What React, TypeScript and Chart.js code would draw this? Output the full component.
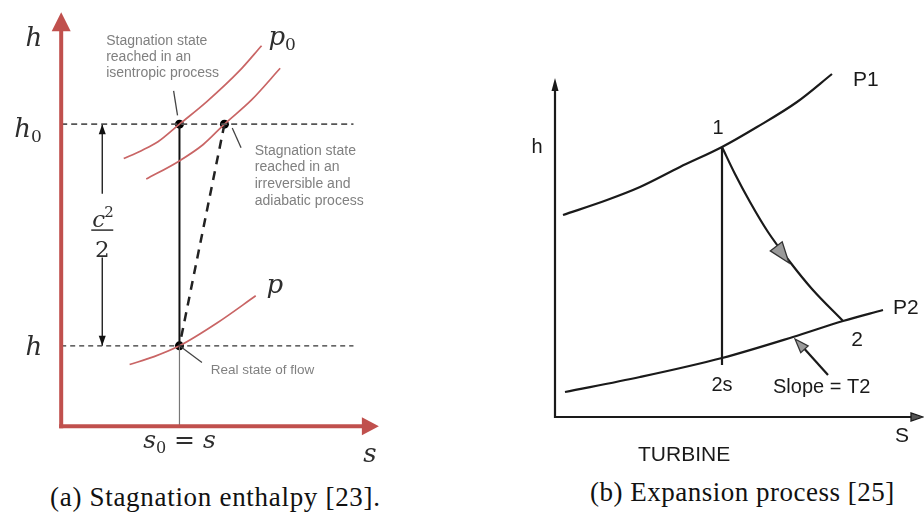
import React, { useEffect, useRef } from "react";
import { Chart, registerables } from "chart.js";
Chart.register(...registerables);

// ---------- Panel (a): stagnation enthalpy (s, h in arbitrary units) ----------
const S0 = 12.1;
const S_IRR = 16.7;
const H0 = 30.8;
const H_REAL = 8.2;
const S_AXIS_END = 32.5;
const H_AXIS_END = 42.2;
const S_DASH_END = 29.9;
const S_C2 = 4.2;
const C2_TOP_END = 23.7;
const C2_BOTTOM_START = 17.2;

const p0IsenS = [6.4, 8.2, 9.9, 12.1, 14.9, 18.2, 20.5];
const p0IsenH = [27.3, 28.1, 29.0, 30.8, 33.1, 36.2, 38.8];
const p0IrrS = [8.7, 12.0, 14.5, 16.7, 19.5, 22.4];
const p0IrrH = [25.2, 27.0, 28.7, 30.8, 33.3, 36.5];
const pS = [7.0, 9.5, 12.1, 15.9, 19.9];
const pH = [6.3, 7.1, 8.2, 10.5, 13.3];

const leader1S = [11.5, 11.9];
const leader1H = [34.2, 31.7];
const leader2S = [17.5, 18.4];
const leader2H = [30.4, 28.4];
const leader3S = [12.1, 14.4];
const leader3H = [8.2, 6.5];

// ---------- Panel (b): turbine expansion (S, h in arbitrary units) ----------
const P1S = [0.8, 5.2, 8.5, 12.5, 16.7, 20.2, 24.2, 27.7];
const P1H = [20.2, 21.7, 23.0, 25.0, 27.0, 29.0, 31.5, 34.3];
const P2S = [1.0, 8.5, 16.7, 23.8, 28.8, 32.8];
const P2H = [2.5, 4.0, 5.9, 8.0, 9.6, 10.7];
const expS = [16.7, 18.0, 19.5, 21.3, 23.5, 25.7, 28.8];
const expH = [27.0, 24.3, 21.5, 18.5, 15.5, 12.8, 9.6];
const S1 = 16.7;
const H1 = 27.0;
const H2S_LINE_END = 5.2;
const B_S_AXIS_END = 36.8;
const B_H_AXIS_END = 33.9;
const expArrowTip = [23.4, 15.4];
const expArrowBase = [22.1, 17.1];
const slopeTail = [27.3, 4.2];
const slopeTip = [24.0, 7.8];

const xy = (xs: number[], ys: number[]) => xs.map((x, i) => ({ x, y: ys[i] }));

function arrowHead(
  ctx: CanvasRenderingContext2D,
  tx: number, ty: number, fx: number, fy: number,
  len: number, half: number, fill: string, stroke?: string
) {
  const a = Math.atan2(ty - fy, tx - fx);
  const bx = tx - len * Math.cos(a);
  const by = ty - len * Math.sin(a);
  const px = -Math.sin(a) * half;
  const py = Math.cos(a) * half;
  ctx.beginPath();
  ctx.moveTo(tx, ty);
  ctx.lineTo(bx + px, by + py);
  ctx.lineTo(bx - px, by - py);
  ctx.closePath();
  ctx.fillStyle = fill;
  ctx.fill();
  if (stroke) {
    ctx.strokeStyle = stroke;
    ctx.lineWidth = 1.3;
    ctx.stroke();
  }
}

function txt(
  ctx: CanvasRenderingContext2D, s: string, x: number, y: number,
  font: string, color: string, align: CanvasTextAlign = "left",
  baseline: CanvasTextBaseline = "alphabetic"
) {
  ctx.font = font;
  ctx.fillStyle = color;
  ctx.textAlign = align;
  ctx.textBaseline = baseline;
  ctx.fillText(s, x, y);
  return ctx.measureText(s).width;
}

function seg(ctx: CanvasRenderingContext2D, x1: number, y1: number, x2: number, y2: number, color: string, w: number) {
  ctx.beginPath();
  ctx.moveTo(x1, y1);
  ctx.lineTo(x2, y2);
  ctx.strokeStyle = color;
  ctx.lineWidth = w;
  ctx.setLineDash([]);
  ctx.stroke();
}

const MATH = '"DejaVu Serif"';
const MATH_COLOR = "#2e2e2e";
const NOTE_COLOR = "#808080";

const leftPlugin = {
  id: "leftDecor",
  afterDatasetsDraw(chart: any) {
    const ctx: CanvasRenderingContext2D = chart.ctx;
    const X = (v: number) => chart.scales.x.getPixelForValue(v);
    const Y = (v: number) => chart.scales.y.getPixelForValue(v);
    ctx.save();
    const red = "#c0504d";
    // axes
    seg(ctx, X(0), Y(0) + 2, X(0), Y(H_AXIS_END) + 15, red, 4);
    seg(ctx, X(0) - 2, Y(0), X(S_AXIS_END) - 14, Y(0), red, 4);
    arrowHead(ctx, X(0), Y(H_AXIS_END), X(0), Y(0), 19, 9.5, red);
    arrowHead(ctx, X(S_AXIS_END), Y(0), X(0), Y(0), 17, 9, red);

    // c^2/2 double arrow heads
    arrowHead(ctx, X(S_C2), Y(H0), X(S_C2), Y(C2_TOP_END), 10, 3.5, "#111");
    arrowHead(ctx, X(S_C2), Y(H_REAL), X(S_C2), Y(C2_BOTTOM_START), 10, 3.5, "#111");

    // math labels
    txt(ctx, "h", X(-2.8), Y(38.8), `italic 26px ${MATH}`, MATH_COLOR, "center");
    let w = txt(ctx, "h", X(-4.8), Y(29.5), `italic 26px ${MATH}`, MATH_COLOR);
    txt(ctx, "0", X(-4.8) + w, Y(29.5) + 5, `17px ${MATH}`, MATH_COLOR);
    txt(ctx, "h", X(-2.8), Y(7.3), `italic 26px ${MATH}`, MATH_COLOR, "center");
    w = txt(ctx, "p", X(21.2), Y(38.9), `italic 26px ${MATH}`, MATH_COLOR);
    txt(ctx, "0", X(21.2) + w, Y(38.9) + 5, `17px ${MATH}`, MATH_COLOR);
    txt(ctx, "p", X(21.0), Y(13.6), `italic 26px ${MATH}`, MATH_COLOR);

    // c^2 / 2
    const cx = X(S_C2);
    const barY = Y(20.0);
    seg(ctx, cx - 11, barY, cx + 11, barY, MATH_COLOR, 1.5);
    txt(ctx, "c", cx - 10, barY - 3, `italic 23px ${MATH}`, MATH_COLOR);
    txt(ctx, "2", cx + 2, barY - 13, `15px ${MATH}`, MATH_COLOR);
    txt(ctx, "2", cx, barY + 27, `23px ${MATH}`, MATH_COLOR, "center");

    // s0 = s
    ctx.font = `italic 25px ${MATH}`;
    const ws = ctx.measureText("s").width;
    ctx.font = `16px ${MATH}`;
    const w0 = ctx.measureText("0").width;
    ctx.font = `25px ${MATH}`;
    const weq = ctx.measureText(" = ").width;
    const total = ws + w0 + weq + ws;
    let sx = X(S0) - total / 2;
    const sb = Y(-2.2);
    txt(ctx, "s", sx, sb, `italic 25px ${MATH}`, MATH_COLOR); sx += ws;
    txt(ctx, "0", sx, sb + 5, `16px ${MATH}`, MATH_COLOR); sx += w0;
    txt(ctx, " = ", sx, sb, `25px ${MATH}`, MATH_COLOR); sx += weq;
    txt(ctx, "s", sx, sb, `italic 25px ${MATH}`, MATH_COLOR);
    txt(ctx, "s", X(30.9), Y(-3.6), `italic 26px ${MATH}`, MATH_COLOR);

    // notes
    const nf = '14px "Liberation Sans"';
    ["Stagnation state", "reached in an", "isentropic process"].forEach((t, i) =>
      txt(ctx, t, X(4.6), Y(39.3) + i * 16.3, nf, NOTE_COLOR, "left", "middle"));
    ["Stagnation state", "reached in an", "irreversible and", "adiabatic process"].forEach((t, i) =>
      txt(ctx, t, X(19.8), Y(28.1) + i * 16.8, nf, NOTE_COLOR, "left", "middle"));
    txt(ctx, "Real state of flow", X(15.3), Y(5.7), '13.5px "Liberation Sans"', NOTE_COLOR, "left", "middle");
    ctx.restore();
  },
};

const rightPlugin = {
  id: "rightDecor",
  afterDatasetsDraw(chart: any) {
    const ctx: CanvasRenderingContext2D = chart.ctx;
    const X = (v: number) => chart.scales.x.getPixelForValue(v);
    const Y = (v: number) => chart.scales.y.getPixelForValue(v);
    ctx.save();
    const ink = "#1a1a1a";
    seg(ctx, X(0), Y(0) + 1, X(0), Y(B_H_AXIS_END) + 8, ink, 2.2);
    seg(ctx, X(0) - 1, Y(0), X(B_S_AXIS_END) - 8, Y(0), ink, 2.2);
    arrowHead(ctx, X(0), Y(B_H_AXIS_END), X(0), Y(0), 13, 3.5, ink);
    arrowHead(ctx, X(B_S_AXIS_END), Y(0), X(0), Y(0), 12, 4, "#555", ink);

    arrowHead(ctx, X(expArrowTip[0]), Y(expArrowTip[1]), X(expArrowBase[0]), Y(expArrowBase[1]), 21, 7.5, "#9a9a9a", "#333");
    seg(ctx, X(slopeTail[0]), Y(slopeTail[1]), X(slopeTip[0]) + 6, Y(slopeTip[1]) + 6, ink, 2.2);
    arrowHead(ctx, X(slopeTip[0]), Y(slopeTip[1]), X(slopeTail[0]), Y(slopeTail[1]), 14, 5, "#9a9a9a", "#333");

    const f = (n: number) => `${n}px "Liberation Sans"`;
    txt(ctx, "h", X(-1.8), Y(27.0), f(20), ink, "center", "middle");
    txt(ctx, "P1", X(29.8), Y(33.7), f(21), ink, "left", "middle");
    txt(ctx, "1", X(16.3), Y(28.9), f(20), ink, "center", "middle");
    txt(ctx, "P2", X(33.8), Y(10.9), f(21), ink, "left", "middle");
    txt(ctx, "2", X(30.2), Y(7.7), f(21), ink, "center", "middle");
    txt(ctx, "2s", X(16.7), Y(3.2), f(20), ink, "center", "middle");
    txt(ctx, "Slope = T2", X(21.8), Y(3.0), f(20), ink, "left", "middle");
    txt(ctx, "S", X(34.7), Y(-1.9), f(21), ink, "center", "middle");
    txt(ctx, "TURBINE", X(8.3), Y(-3.8), f(21), ink, "left", "middle");
    ctx.restore();
  },
};

const baseOptions = (xmin: number, xmax: number, ymin: number, ymax: number) => ({
  responsive: false,
  animation: false as const,
  events: [] as any[],
  layout: { padding: 0 },
  plugins: { legend: { display: false }, tooltip: { enabled: false }, title: { display: false } },
  scales: {
    x: { type: "linear" as const, display: false, min: xmin, max: xmax },
    y: { type: "linear" as const, display: false, min: ymin, max: ymax },
  },
});

const line = (data: any[], color: string, width: number, extra: any = {}) => ({
  data,
  showLine: true,
  borderColor: color,
  borderWidth: width,
  pointRadius: 0,
  fill: false,
  ...extra,
});

function leftConfig(): any {
  const curveRed = "#c96565";
  return {
    type: "scatter",
    data: {
      datasets: [
        line(xy([0, S_DASH_END], [H0, H0]), "#555", 1.6, { borderDash: [6, 4] }),
        line(xy([0, S_DASH_END], [H_REAL, H_REAL]), "#333", 1.3, { borderDash: [5, 4] }),
        line(xy(p0IsenS, p0IsenH), curveRed, 1.7, { cubicInterpolationMode: "monotone" }),
        line(xy(p0IrrS, p0IrrH), curveRed, 1.7, { cubicInterpolationMode: "monotone" }),
        line(xy(pS, pH), curveRed, 1.7, { cubicInterpolationMode: "monotone" }),
        line(xy([S0, S0], [H_REAL, 0]), "#777", 1.2),
        line(xy([S0, S0], [H0, H_REAL]), "#111", 2),
        line(xy([S_IRR, S0], [H0, H_REAL]), "#222", 2.5, { borderDash: [9, 7] }),
        line(xy([S_C2, S_C2], [H0, C2_TOP_END]), "#111", 1.3),
        line(xy([S_C2, S_C2], [C2_BOTTOM_START, H_REAL]), "#111", 1.3),
        line(xy(leader1S, leader1H), "#444", 1.3),
        line(xy(leader2S, leader2H), "#444", 1.3),
        line(xy(leader3S, leader3H), "#444", 1.3),
        {
          data: xy([S0, S_IRR, S0], [H0, H0, H_REAL]),
          showLine: false,
          pointRadius: 4.5,
          pointBackgroundColor: "#000",
          pointBorderWidth: 0,
        },
      ],
    },
    options: baseOptions(-5.8, 34.2, -4.0, 43.0),
    plugins: [leftPlugin],
  };
}

function rightConfig(): any {
  const ink = "#1a1a1a";
  return {
    type: "scatter",
    data: {
      datasets: [
        line(xy(P1S, P1H), ink, 2.2, { cubicInterpolationMode: "monotone" }),
        line(xy(P2S, P2H), ink, 2.2, { cubicInterpolationMode: "monotone" }),
        line(xy(expS, expH), ink, 2.2, { cubicInterpolationMode: "monotone" }),
        line(xy([S1, S1], [H1, H2S_LINE_END]), ink, 2.2),
      ],
    },
    options: baseOptions(-3.5, 36.9, -5.3, 41.7),
    plugins: [rightPlugin],
  };
}

export default function App() {
  const leftRef = useRef<HTMLCanvasElement>(null);
  const rightRef = useRef<HTMLCanvasElement>(null);
  useEffect(() => {
    const a = new Chart(leftRef.current as HTMLCanvasElement, leftConfig());
    const b = new Chart(rightRef.current as HTMLCanvasElement, rightConfig());
    return () => {
      a.destroy();
      b.destroy();
    };
  }, []);
  const cap: React.CSSProperties = {
    position: "absolute",
    font: '27px "Liberation Serif"',
    lineHeight: "27px",
    whiteSpace: "nowrap",
    color: "#111",
  };
  return (
    <div style={{ position: "absolute", left: 0, top: 0, width: 924, height: 515, background: "#fff", overflow: "hidden" }}>
      <canvas ref={leftRef} width={400} height={470} style={{ position: "absolute", left: 0, top: 0, width: 400, height: 470 }} />
      <canvas ref={rightRef} width={404} height={470} style={{ position: "absolute", left: 520, top: 0, width: 404, height: 470 }} />
      <div style={{ ...cap, left: 50, top: 484, letterSpacing: "0.7px" }}>(a) Stagnation enthalpy [23].</div>
      <div style={{ ...cap, left: 590, top: 479, letterSpacing: "0.5px" }}>(b) Expansion process [25]</div>
    </div>
  );
}
